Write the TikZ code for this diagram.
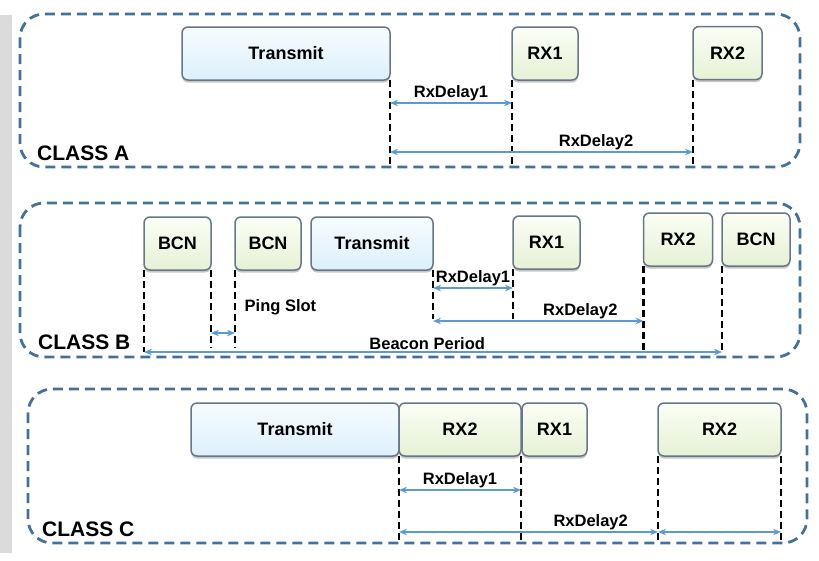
\documentclass[tikz,border=0pt]{standalone}
\usepackage{fontspec}
\setmainfont{Liberation Sans}
\usetikzlibrary{arrows.meta,shadows}

\definecolor{panelblue}{HTML}{41719C}
\definecolor{dimblue}{HTML}{5B9BD5}
\definecolor{boxedge}{HTML}{67778A}
\definecolor{txtop}{HTML}{F6FCFF}
\definecolor{txbot}{HTML}{DDF0FB}
\definecolor{rxtop}{HTML}{FBFEF5}
\definecolor{rxbot}{HTML}{E6F1D5}

\begin{document}
\begin{tikzpicture}[x=1pt, y=-1pt, >={Stealth[length=8pt,width=6.5pt]},
    panel/.style={draw=panelblue, line width=2.8pt, dash pattern=on 10pt off 6pt, rounded corners=24pt},
    slot/.style={draw=boxedge, line width=1.5pt, rounded corners=6pt, minimum height=53pt,
      inner sep=0pt, outer sep=0pt, font=\fontsize{18}{20}\selectfont\bfseries,
      drop shadow={shadow xshift=0pt, shadow yshift=-2.5pt, opacity=0.45}},
    txbox/.style={slot, top color=txtop, bottom color=txbot},
    rxbox/.style={slot, top color=rxtop, bottom color=rxbot},
    guide/.style={draw=black, line width=2.2pt, dash pattern=on 7pt off 4pt},
    dim/.style={<->, draw=dimblue, line width=2pt},
    lbl/.style={font=\fontsize{16.5}{18}\selectfont\bfseries, inner sep=1.5pt},
    cls/.style={font=\fontsize{21}{23}\selectfont\bfseries, anchor=west, inner sep=0pt}]

    \useasboundingbox (0,0) rectangle (819,560);
    \fill[gray!28] (0,15) rectangle (12,553);

    % Class A
    \draw[panel] (20,14) rectangle (800,167);
    \node[cls] (clsA) at (37,153) {CLASS A};
    \node[txbox, minimum width=208pt] (txA) at (286,53.5) {Transmit};
    \node[rxbox, minimum width=66pt] (rx1A) at (545,53.5) {RX1};
    \node[rxbox, minimum width=69pt] (rx2A) at (727.5,53) {RX2};

    \draw[guide] (txA.south east) -- +(0,86);
    \draw[guide] (rx1A.south west) -- +(0,86);
    \draw[guide] (rx2A.south west) -- +(0,86);
    \draw[dim] (txA.south east |- 0,103) -- node[lbl, above] (dlyA1) {RxDelay1} (rx1A.south west |- 0,103);
    \draw[dim] (txA.south east |- 0,152) -- node[lbl, above, pos=0.68] (dlyA2) {RxDelay2} (rx2A.south west |- 0,152);

    % Class B
    \draw[panel] (20,203) rectangle (800,357);
    \node[cls] (clsB) at (38,342) {CLASS B};
    \node[rxbox, minimum width=67pt] (bcnB1) at (177.5,243.5) {BCN};
    \node[rxbox, minimum width=66pt] (bcnB2) at (268,243.5) {BCN};
    \node[txbox, minimum width=122pt] (txB) at (372,243.5) {Transmit};
    \node[rxbox, minimum width=67pt] (rx1B) at (546.5,242.5) {RX1};
    \node[rxbox, minimum width=69pt] (rx2B) at (678,239.5) {RX2};
    \node[rxbox, minimum width=68pt] (bcnB3) at (756,239.5) {BCN};

    \draw[guide] (bcnB1.south west) -- (bcnB1.south west |- 0,352);
    \draw[guide] (bcnB1.south east) -- (bcnB1.south east |- 0,348);
    \draw[guide] (bcnB2.south west) -- (bcnB2.south west |- 0,348);
    \draw[guide] (txB.south east) -- (txB.south east |- 0,319);
    \draw[guide] (rx1B.south west) -- (rx1B.south west |- 0,319);
    \draw[guide] (rx2B.south west) -- (rx2B.south west |- 0,351);
    \draw[guide] (bcnB3.south west) -- (bcnB3.south west |- 0,353);
    \node[lbl, anchor=west] (ping) at (243,307) {Ping Slot};
    \draw[dim] (bcnB1.south east |- 0,333) -- (bcnB2.south west |- 0,333);
    \draw[dim] (txB.south east |- 0,288) -- node[lbl, above] (dlyB1) {RxDelay1} (rx1B.south west |- 0,288);
    \draw[dim] (txB.south east |- 0,321) -- node[lbl, above, pos=0.70] (dlyB2) {RxDelay2} (rx2B.south west |- 0,321);
    \draw[dim] (bcnB1.south west |- 0,352) -- node[lbl, above, pos=0.49] (beacon) {Beacon Period} (bcnB3.south west |- 0,352);

    % Class C
    \draw[panel] (28,389) rectangle (807,543);
    \node[cls] (clsC) at (42,529) {CLASS C};
    \node[txbox, minimum width=208pt] (txC) at (295,429.5) {Transmit};
    \node[rxbox, minimum width=122pt] (rx2C) at (460,429.5) {RX2};
    \node[rxbox, minimum width=65pt] (rx1C) at (554.5,429.5) {RX1};
    \node[rxbox, minimum width=123pt] (rx2Cb) at (719.5,429.5) {RX2};

    \draw[guide] (rx2C.south west) -- +(0,87);
    \draw[guide] (rx2C.south east) -- +(0,85);
    \draw[guide] (rx2Cb.south west) -- +(0,85);
    \draw[guide] (rx2Cb.south east) -- +(0,85);
    \draw[dim] (rx2C.south west |- 0,490) -- node[lbl, above] (dlyC1) {RxDelay1} (rx2C.south east |- 0,490);
    \draw[dim] (rx2C.south west |- 0,532) -- node[lbl, above, pos=0.74] (dlyC2) {RxDelay2} (rx2Cb.south west |- 0,532);
    \draw[dim] (rx2Cb.south west |- 0,532) -- (rx2Cb.south east |- 0,532);

\end{tikzpicture}
\end{document}
